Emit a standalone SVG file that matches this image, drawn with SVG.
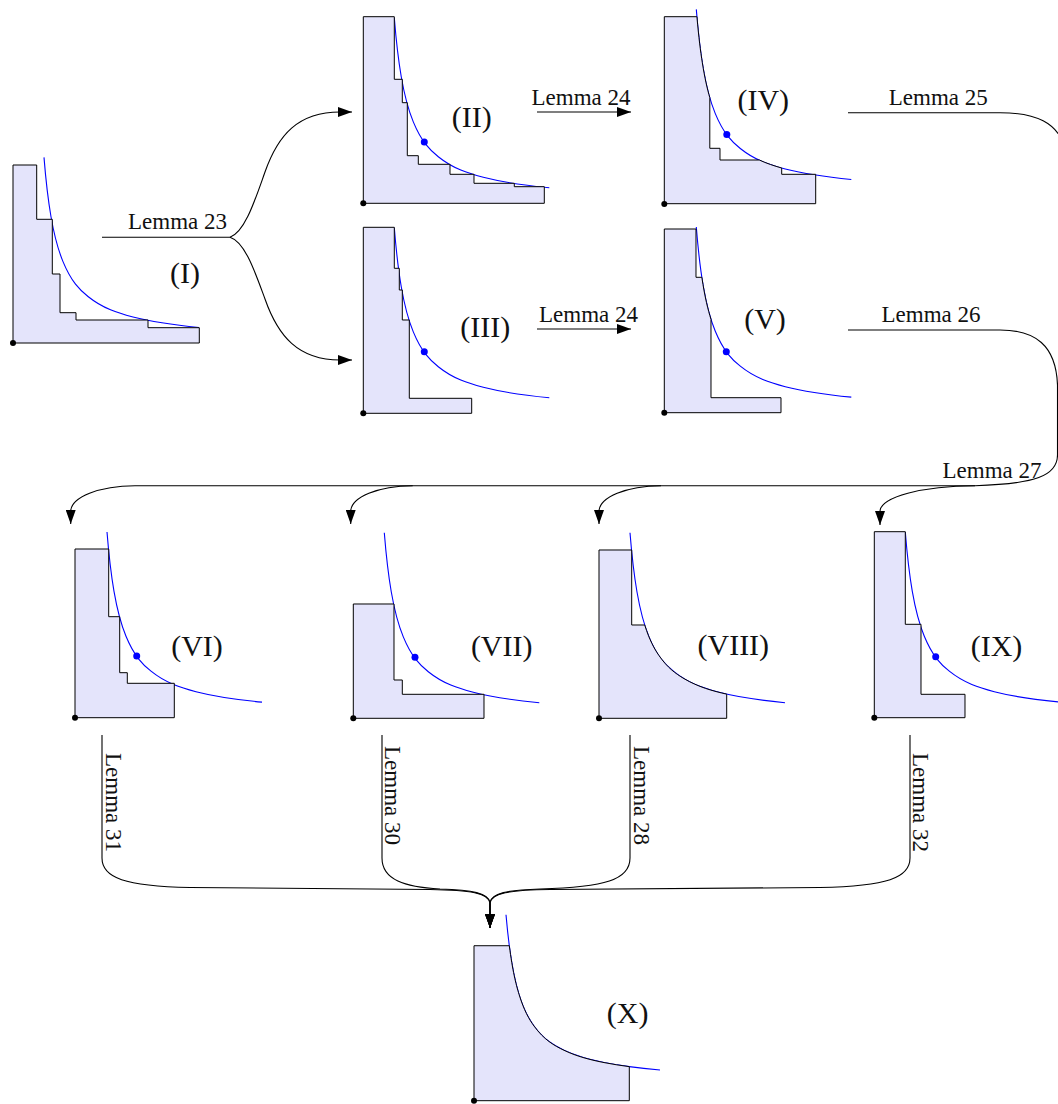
<svg xmlns="http://www.w3.org/2000/svg" xmlns:xlink="http://www.w3.org/1999/xlink" width="1058" height="1104" viewBox="0 0 1058 1104">
<style>
.reg{fill:#e4e4fb;stroke:#000;stroke-width:1;stroke-linejoin:miter}
.crv{fill:none;stroke:#0000ff;stroke-width:1.1}
.dot{fill:#0000ff}
.org{fill:#000}
.num{font-family:"Liberation Serif","DejaVu Serif",serif;font-size:30px;fill:#111;text-anchor:middle}
.lem{font-family:"Liberation Serif","DejaVu Serif",serif;font-size:23px;fill:#111;text-anchor:middle}
.vlem{font-family:"Liberation Serif","DejaVu Serif",serif;font-size:23px;fill:#111}
.con{fill:none;stroke:#000;stroke-width:1.1}
</style>
<defs>
<marker id="arr" viewBox="0 0 14 10" refX="14" refY="5" markerWidth="14" markerHeight="10" markerUnits="userSpaceOnUse" orient="auto">
<path d="M0,0 L14,5 L0,10 Z" fill="#000"/>
</marker>
<path id="c" d="M31,-185.63 C33.33,-156.61 35.67,-139.77 38,-126.28 C42,-103.16 46,-91.07 50,-81.39 C58.33,-61.22 66.67,-53.22 75,-46.52 C90,-34.46 105,-29.88 120,-26 C142,-20.31 164,-17.69 186,-15.56"/>
</defs>
<rect width="1058" height="1104" fill="#fff"/>

<g id="panel-I" transform="translate(13,343)">
<use xlink:href="#c" class="crv"/>
<path class="reg" d="M0,0 V-178 H23.7 V-123.7 H39.3 V-69 H47 V-30.3 H63 V-23 H135 V-15.3 H186.3 V0 Z"/>
<circle class="org" cx="0" cy="0" r="3"/>
</g>
<text class="num" x="185" y="283">(I)</text>

<g id="panel-II" transform="translate(363.3,203.3)">
<use xlink:href="#c" class="crv"/>
<path class="reg" d="M0,0 V-186.6 H31 V-124 H39 V-100.6 H44 V-47.6 H55 V-39 H86.7 V-29 H110.7 V-20 H151 V-16.6 H181 V0 Z"/>
<circle class="dot" cx="61" cy="-61.3" r="3.5"/>
<circle class="org" cx="0" cy="0" r="3"/>
</g>
<text class="num" x="471.7" y="126.5">(II)</text>

<g id="panel-III" transform="translate(363.3,413.3)">
<use xlink:href="#c" class="crv"/>
<path class="reg" d="M0,0 V-186 H31 V-145 H36 V-123.3 H39 V-93.3 H46 V-15 H108.4 V0 Z"/>
<circle class="dot" cx="61" cy="-61.5" r="3.5"/>
<circle class="org" cx="0" cy="0" r="3"/>
</g>
<text class="num" x="485.3" y="336.5">(III)</text>

<g id="panel-IV" transform="translate(665.3,195)">
<use xlink:href="#c" class="crv"/>
<path class="reg" d="M-1,8.7 V-178.3 H31.61 C33.41,-157.71 35.2,-143.74 37,-132.34 C39.5,-116.48 42,-105.89 44.5,-97.28 V-46.7 H54.7 V-35 H93.94 C101.43,-31.55 108.91,-29.05 116.4,-26.97 V-20.7 H150.4 V8.7 Z"/>
<circle class="dot" cx="61.5" cy="-60.6" r="3.5"/>
<circle class="org" cx="-1" cy="9" r="3"/>
</g>
<text class="num" x="763.3" y="109.5">(IV)</text>

<g id="panel-V" transform="translate(665.3,412.7)">
<use xlink:href="#c" class="crv"/>
<path class="reg" d="M-1,0 V-183.7 H30.7 V-135.4 H36.53 C39.59,-115.1 42.64,-103.01 45.7,-93.31 V-15 H115.7 V0 Z"/>
<circle class="dot" cx="61" cy="-61" r="3.5"/>
<circle class="org" cx="-1" cy="0" r="3"/>
</g>
<text class="num" x="765" y="329">(V)</text>

<g id="panel-VI" transform="translate(75,717.7)">
<use xlink:href="#c" class="crv" x="1"/>
<path class="reg" d="M0,0 V-168.7 H33.7 V-101 H44.7 V-45 H52.3 V-34.4 H99.3 V0 Z"/>
<circle class="dot" cx="61.7" cy="-61.6" r="3.5"/>
<circle class="org" cx="0" cy="0" r="3"/>
</g>
<text class="num" x="197" y="656">(VI)</text>

<g id="panel-VII" transform="translate(353.3,718.3)">
<use xlink:href="#c" class="crv"/>
<path class="reg" d="M0,0 V-114.3 H40.7 V-38.3 H49 V-24 H130.7 V0 Z"/>
<circle class="dot" cx="61.7" cy="-61" r="3.5"/>
<circle class="org" cx="0" cy="0" r="3"/>
</g>
<text class="num" x="501.7" y="655.5">(VII)</text>

<g id="panel-VIII" transform="translate(599,718.3)">
<use xlink:href="#c" class="crv"/>
<path class="reg" d="M0,0 V-168.3 H32.7 V-93.3 H45.7 C50.47,-78.19 55.23,-69.58 60,-62.69 C68.33,-50.65 76.67,-44.55 85,-39.65 C99.23,-31.29 113.47,-27.34 127.7,-24.15 V0 Z"/>
<circle class="org" cx="0" cy="0" r="3"/>
</g>
<text class="num" x="733.3" y="655">(VIII)</text>

<g id="panel-IX" transform="translate(874.3,717.7)">
<use xlink:href="#c" class="crv"/>
<path class="reg" d="M0,0 V-186 H31 V-93.4 H46.7 V-23.4 H90.7 V0 Z"/>
<circle class="dot" cx="61.4" cy="-61" r="3.5"/>
<circle class="org" cx="0" cy="0" r="3"/>
</g>
<text class="num" x="996.5" y="656">(IX)</text>

<g id="panel-X" transform="translate(474,1100.7)">
<path class="crv" d="M32,-186 C33.1,-173.35 34.2,-163.43 35.3,-154.97 C38.53,-130.11 41.77,-116.95 45,-106.41 C50,-90.11 55,-81.54 60,-74.66 C70,-60.91 80,-55.15 90,-50.4 C103.33,-44.06 116.67,-40.77 130,-38.13 C138.43,-36.46 146.87,-35.15 155.3,-34.04 C165.53,-32.69 175.77,-31.63 186,-30.72"/>
<path class="reg" d="M0,0 V-154.97 H35.3 C38.53,-130.11 41.77,-116.95 45,-106.41 C50,-90.11 55,-81.54 60,-74.66 C70,-60.91 80,-55.15 90,-50.4 C103.33,-44.06 116.67,-40.77 130,-38.13 C138.43,-36.46 146.87,-35.15 155.3,-34.04 V0 Z"/>
<circle class="org" cx="0" cy="0" r="3"/>
</g>
<text class="num" x="627.7" y="1022.5">(X)</text>

<g id="connectors">
<path class="con" d="M102,237.3 H230"/>
<path class="con" marker-end="url(#arr)" d="M230,237.3 C245,232 255,200 265,172 C278,135 298,112 340,112 L352,112"/>
<path class="con" marker-end="url(#arr)" d="M230,237.3 C245,242 255,272 265,299 C278,336 298,360 340,360 L352,360"/>
<path class="con" marker-end="url(#arr)" d="M537,112 H631"/>
<path class="con" marker-end="url(#arr)" d="M537,329 H631"/>
<path class="con" d="M848,112.7 H1000 C1035,112.7 1058,122 1066,150"/>
<path class="con" marker-end="url(#arr)" d="M848,330 H1000 C1035,330 1056,345 1057.5,385 V455 C1057.5,476 1035,484 975,485.7 H135 C99.5,485.7 70.7,497.3 70.7,511.7 L70.7,524"/>
<path class="con" marker-end="url(#arr)" d="M412.7,485.7 C378.5,485.7 350.7,497.3 350.7,511.7 L350.7,524"/>
<path class="con" marker-end="url(#arr)" d="M661,485.7 C626.8,485.7 599,497.3 599,511.7 L599,524"/>
<path class="con" marker-end="url(#arr)" d="M975,485.7 C922.6,485.7 880,497.3 880,511.7 L880,525"/>
<path class="con" marker-end="url(#arr)" d="M102,735 V858 C102,878 125,886 190,887.5 L430,889.5 C470,890 489,893 490,903 V928"/>
<path class="con" marker-end="url(#arr)" d="M382,735 V858 C382,880 405,887 440,889 C472,890 489,893 490,903 V928"/>
<path class="con" marker-end="url(#arr)" d="M630,735 V858 C630,880 605,887 540,889 C508,890 491,893 490,903 V928"/>
<path class="con" marker-end="url(#arr)" d="M910,735 V858 C910,878 887,886 820,887.5 L550,889.5 C510,890 491,893 490,903 V928"/>
<text class="lem" x="177.5" y="229">Lemma 23</text>
<text class="lem" x="581" y="104.5">Lemma 24</text>
<text class="lem" x="588.5" y="321.5">Lemma 24</text>
<text class="lem" x="938.3" y="105">Lemma 25</text>
<text class="lem" x="931" y="322.3">Lemma 26</text>
<text class="lem" x="992" y="478.3">Lemma 27</text>
<text class="vlem" transform="translate(105.5,753) rotate(90)">Lemma 31</text>
<text class="vlem" transform="translate(385,746) rotate(90)">Lemma 30</text>
<text class="vlem" transform="translate(633.5,746) rotate(90)">Lemma 28</text>
<text class="vlem" transform="translate(913,753) rotate(90)">Lemma 32</text>
</g>
</svg>
